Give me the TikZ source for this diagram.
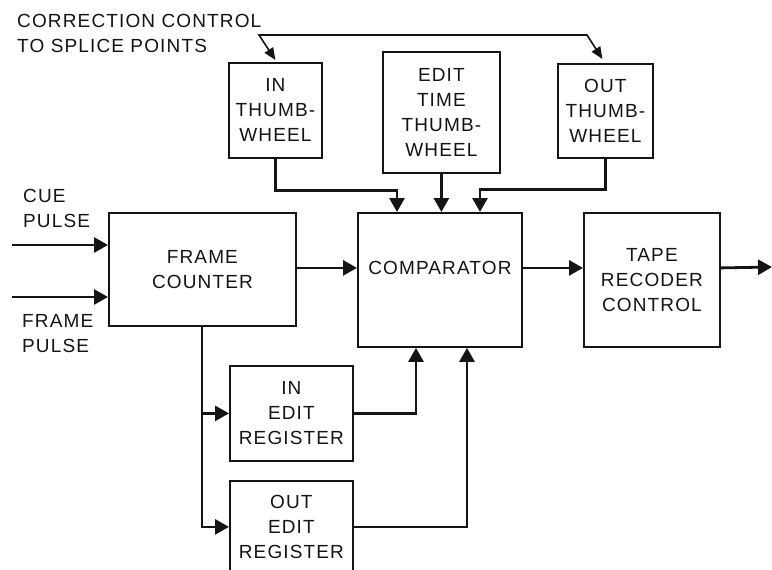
\documentclass[tikz,border=0pt]{standalone}
\usepackage{fontspec}
\setmainfont{Liberation Sans}[LetterSpace=6]
\usetikzlibrary{arrows.meta,calc}
\definecolor{schink}{HTML}{141414}

\tikzset{
  blk/.style={draw=schink, line width=1.8pt, align=center, inner sep=0pt,
    anchor=north west, text=schink, font=\fontsize{19}{25}\selectfont},
  lbl/.style={anchor=north west, align=left, inner sep=0pt, text=schink,
    font=\fontsize{19}{25}\selectfont},
  sig/.style={draw=schink, line width=2.8pt, -{Triangle[length=14pt,width=15pt]}},
  corr/.style={draw=schink, line width=1.6pt, {Triangle[length=12pt,width=10pt]}-{Triangle[length=12pt,width=10pt]}}
}

\begin{document}
\begin{tikzpicture}[x=1pt,y=-1pt]
  \clip (0,0) rectangle (772,570);

  % thumbwheels
  \node[blk, minimum width=93, minimum height=95] (inw) at (228,62) {IN\\THUMB-\\WHEEL};
  \node[blk, minimum width=117, minimum height=121] (etw) at (382,51) {EDIT\\TIME\\THUMB-\\WHEEL};
  \node[blk, minimum width=95, minimum height=94] (otw) at (557,63) {OUT\\THUMB-\\WHEEL};

  % main chain
  \node[blk, minimum width=187, minimum height=113] (fc) at (108,212) {FRAME\\COUNTER};
  \node[blk, minimum width=164, minimum height=134, text depth=24pt] (cmp) at (357,212) {COMPARATOR};
  \node[blk, minimum width=136, minimum height=134] (trc) at (583,212) {TAPE\\RECODER\\CONTROL};

  % registers
  \node[blk, minimum width=123, minimum height=95] (ier) at (229,365) {IN\\EDIT\\REGISTER};
  \node[blk, minimum width=123, minimum height=92] (oer) at (229,480) {OUT\\EDIT\\REGISTER};

  % labels
  \node[lbl] (cctxt) at (17,14) {CORRECTION CONTROL\\TO SPLICE POINTS};
  \node[lbl] (cuetxt) at (23,189) {CUE\\PULSE};
  \node[lbl] (frtxt) at (22,314) {FRAME\\PULSE};

  \coordinate (cuein) at (12,245);
  \coordinate (frin) at (12,297);
  \coordinate (out) at (772,267);
  \coordinate (cc1) at (259,35);
  \coordinate (cc2) at (587,35);
  \coordinate (tap) at ([xshift=94pt]fc.south west);

  % inputs and chain
  \draw[sig] (cuein) -- (cuein -| fc.west);
  \draw[sig] (frin) -- (frin -| fc.west);
  \draw[sig] ([yshift=1.5pt]fc.east) -- ([yshift=1.5pt]fc.east -| cmp.west);
  \draw[sig] ([yshift=12pt]cmp.east) -- ([yshift=12pt]cmp.east -| trc.west);
  \draw[sig] ([yshift=12pt]trc.east) -- (out);

  % thumbwheels to comparator
  \draw[sig] (inw.south) -- ++(0,32) -| ([xshift=40pt]cmp.north west);
  \draw[sig] (etw.south) -- (etw.south |- cmp.north);
  \draw[sig] (otw.south) -- ++(0,31) -| ([xshift=123pt]cmp.north west);

  % registers
  \draw[sig] (tap) |- (oer.west);
  \draw[sig] (tap |- ier.west) -- (ier.west);
  \draw[sig] (ier.east) -| ([xshift=59pt]cmp.south west);
  \draw[sig] (oer.east) -| ([xshift=110pt]cmp.south west);

  % correction control
  \draw[corr] ([yshift=2pt]inw.north) -- (cc1) -- (cc2) -- ([xshift=-3pt,yshift=4pt]otw.north);
\end{tikzpicture}
\end{document}
